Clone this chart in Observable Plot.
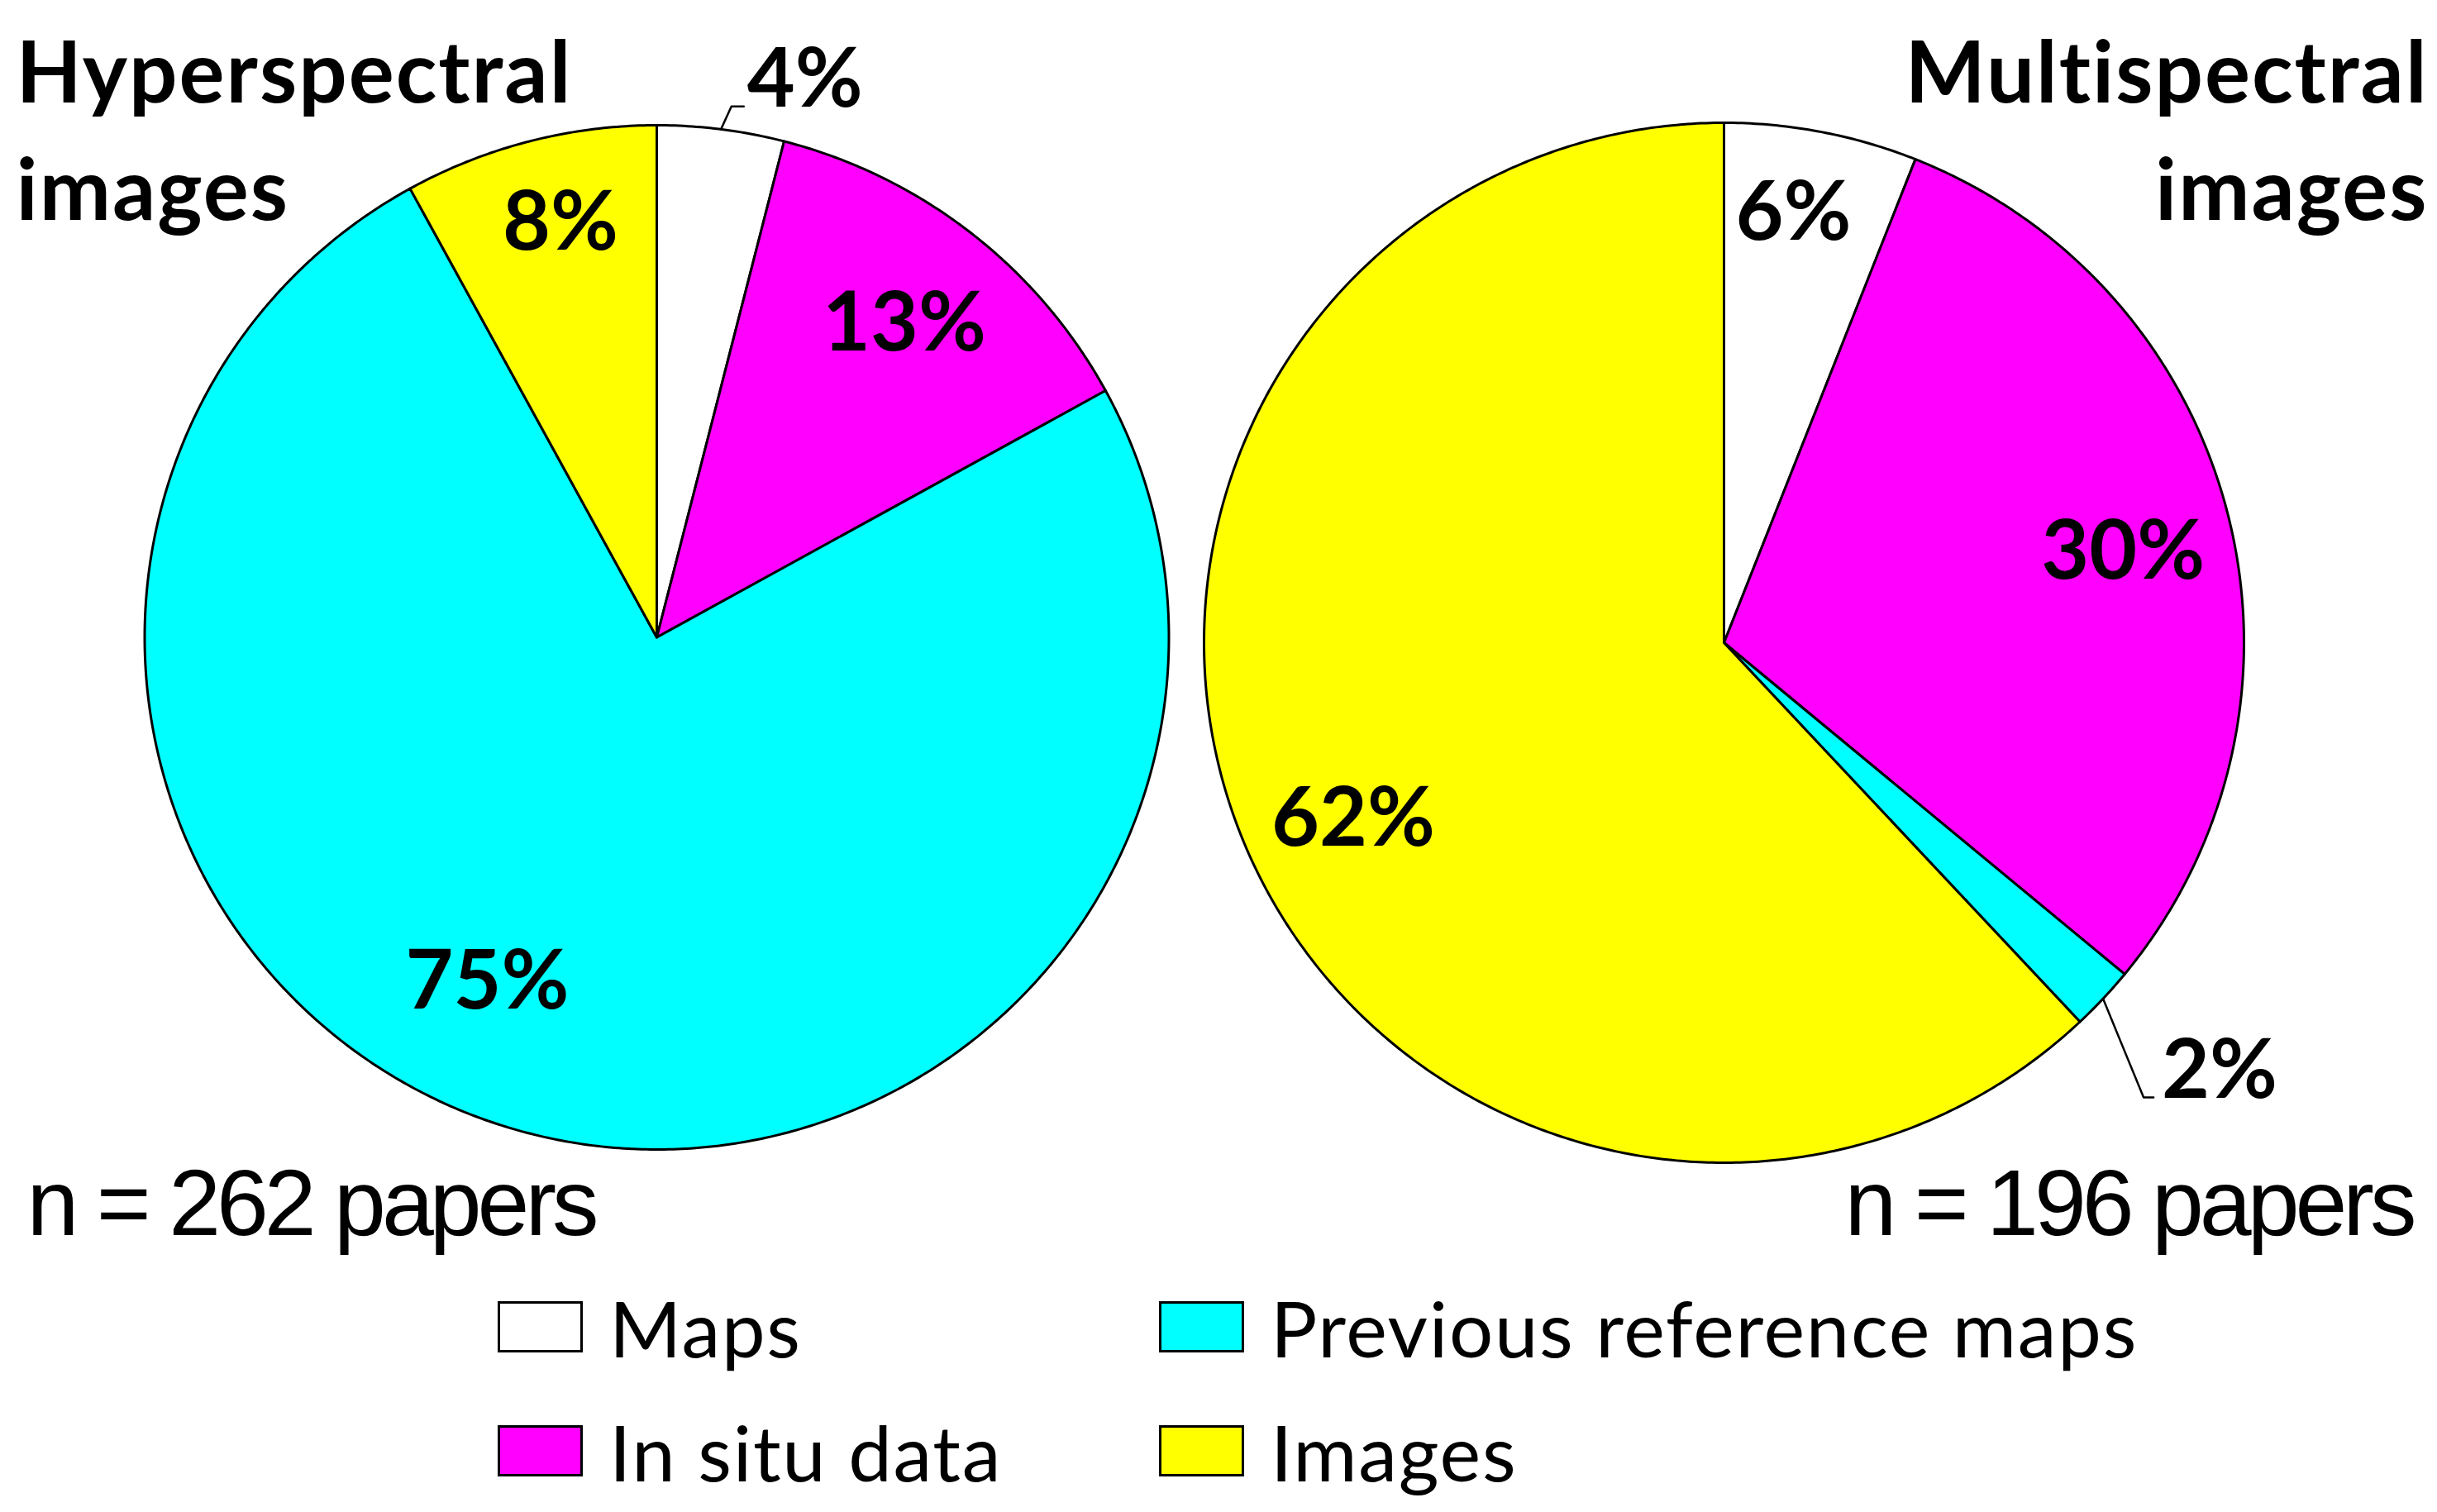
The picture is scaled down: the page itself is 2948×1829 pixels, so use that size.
<!DOCTYPE html>
<html>
<head>
<meta charset="utf-8">
<script src="https://cdn.jsdelivr.net/npm/d3@7"></script>
<script src="https://cdn.jsdelivr.net/npm/@observablehq/plot@0.6"></script>
<style>
  body { margin: 0; background: #fff; }
  #chart svg { display: block; }
  #legend {
    position: relative; height: 299px; box-sizing: border-box;
    padding-left: 602px; padding-top: 0px;
    display: grid; grid-template-columns: 800px auto; grid-auto-rows: 150px;
    font-family: Lato, "Open Sans", sans-serif; font-size: 94px; letter-spacing: 1.7px; color: #000;
  }
  .item { display: flex; align-items: center; }
  .swatch { width: 103px; height: 62px; box-sizing: border-box; border: 3px solid #000; margin-right: 32px; flex: none; }
</style>
</head>
<body>
<div id="chart"></div>
<div id="legend"></div>
<script>
// ---------- data ----------
const categories = ["Maps", "In situ data", "Previous reference maps", "Images"];
const categoryColors = ["#ffffff", "#ff00ff", "#00ffff", "#ffff00"];
const pieNames = ["Hyperspectral images", "Multispectral images"];
const hyperspectralPercent = [4, 13, 75, 8];
const multispectralPercent = [6, 30, 2, 62];
const paperCounts = [262, 196];
const legendOrder = ["Maps", "Previous reference maps", "In situ data", "Images"];

// ---------- layout ----------
const W = 2948, H = 1530;
const layout = [
  { cx: 794, cy: 770.5, r: 619.5, titleX: 19, titleAnchor: "start", nX: 32, nAnchor: "start",
    callout: { category: "Maps", radius: 1.047, angle: 0.8, tail: 15, gap: 4 },
    labelTweaks: {
      "In situ data": { radius: 0.78, angle: 0.5 },
      "Previous reference maps": { radius: 0.75, angle: 10 },
      "Images": { radius: 0.83, angle: 1.3 }
    } },
  { cx: 2085, cy: 777, r: 629, titleX: 2937, titleAnchor: "end", nX: 2918, nAnchor: "end",
    callout: { category: "Previous reference maps", radius: 1.19, angle: 4.1, tail: 12, gap: 10 },
    labelTweaks: {
      "Maps": { radius: 0.836, angle: -1.6 },
      "In situ data": { radius: 0.787, angle: 1.6 },
      "Images": { radius: 0.79, angle: -3.9 }
    } }
];
const labelRadius = 0.8;
const titleBaselines = [123, 265];
const nBaseline = 1493;

const seriesValues = [hyperspectralPercent, multispectralPercent];
const rad = d => d * Math.PI / 180;
const pt = (L, ang, rr) => ({ x: L.cx + rr * Math.sin(rad(ang)), y: L.cy - rr * Math.cos(rad(ang)) });

const slicePoints = [], pctLabels = [], leaders = [], calloutLabels = [];
seriesValues.forEach((vals, p) => {
  const L = layout[p];
  const total = d3.sum(vals);
  let start = 0;
  vals.forEach((v, i) => {
    const a0 = start / total * 360, a1 = (start + v) / total * 360;
    start += v;
    const id = p + "-" + i;
    const cat = categories[i];
    slicePoints.push({ id, category: cat, ...pt(L, 0, 0) });
    const steps = Math.max(2, Math.ceil((a1 - a0) / 0.5));
    for (let k = 0; k <= steps; k++) slicePoints.push({ id, category: cat, ...pt(L, a0 + (a1 - a0) * k / steps, L.r) });
    slicePoints.push({ id, category: cat, ...pt(L, 0, 0) });
    const mid = (a0 + a1) / 2;
    const text = v + "%";
    if (L.callout.category === cat) {
      const c = L.callout;
      const p0 = pt(L, mid, L.r);
      const p1 = pt(L, mid + c.angle, L.r * c.radius);
      const p2 = { x: p1.x + c.tail, y: p1.y };
      [p0, p1, p2].forEach(q => leaders.push({ id, ...q }));
      calloutLabels.push({ x: p2.x + c.gap, y: p2.y, text });
    } else {
      const t = L.labelTweaks[cat] || {};
      const q = pt(L, mid + (t.angle || 0), L.r * (t.radius || labelRadius));
      pctLabels.push({ ...q, text });
    }
  });
});

const titles = [];
pieNames.forEach((name, p) => {
  name.split(" ").forEach((line, j) => titles.push({ x: layout[p].titleX, y: titleBaselines[j], text: line, anchor: layout[p].titleAnchor }));
});
const nLabels = paperCounts.map((n, p) => ({ x: layout[p].nX, y: nBaseline, text: `n = ${n} papers`, anchor: layout[p].nAnchor }));

const boldFont = "Lato, 'Open Sans', sans-serif";
const nFont = "'Liberation Sans', Arial, sans-serif";

const chart = Plot.plot({
  width: W, height: H, margin: 0,
  style: { background: "#fff", overflow: "visible" },
  x: { domain: [0, W], axis: null },
  y: { domain: [0, H], reverse: true, axis: null },
  color: { domain: categories, range: categoryColors },
  marks: [
    Plot.line(slicePoints, { x: "x", y: "y", z: "id", fill: "category", stroke: "#000", strokeWidth: 3, strokeLinejoin: "round", curve: "linear" }),
    Plot.line(leaders, { x: "x", y: "y", z: "id", stroke: "#000", strokeWidth: 2.5 }),
    Plot.text(pctLabels, { x: "x", y: "y", text: "text", fontSize: 100, fontWeight: "bold", fontFamily: boldFont, fill: "#000", textAnchor: "middle", lineAnchor: "middle" }),
    Plot.text(calloutLabels, { x: "x", y: "y", text: "text", fontSize: 100, fontWeight: "bold", fontFamily: boldFont, fill: "#000", textAnchor: "start", lineAnchor: "bottom" }),
    Plot.text(titles.filter(d => d.anchor === "start"), { x: "x", y: "y", text: "text", fontSize: 103, fontWeight: "bold", fontFamily: boldFont, fill: "#000", textAnchor: "start", lineAnchor: "bottom" }),
    Plot.text(titles.filter(d => d.anchor === "end"), { x: "x", y: "y", text: "text", fontSize: 103, fontWeight: "bold", fontFamily: boldFont, fill: "#000", textAnchor: "end", lineAnchor: "bottom" }),
    Plot.text(nLabels.filter(d => d.anchor === "start"), { x: "x", y: "y", text: "text", fontSize: 113, fontFamily: nFont, fill: "#000", textAnchor: "start", lineAnchor: "bottom" }),
    Plot.text(nLabels.filter(d => d.anchor === "end"), { x: "x", y: "y", text: "text", fontSize: 113, fontFamily: nFont, fill: "#000", textAnchor: "end", lineAnchor: "bottom" })
  ]
});
const titleWords = new Set(titles.map(d => d.text));
d3.select(chart).selectAll("text").each(function () {
  const t = this.textContent;
  if (t.startsWith("n =")) this.setAttribute("letter-spacing", "-5px");
  else if (titleWords.has(t)) this.setAttribute("letter-spacing", "2px");
});
document.getElementById("chart").appendChild(chart);

const legend = d3.select("#legend");
legendOrder.forEach(cat => {
  const item = legend.append("div").attr("class", "item");
  item.append("div").attr("class", "swatch").style("background", categoryColors[categories.indexOf(cat)]);
  item.append("span").text(cat);
});
</script>
</body>
</html>
